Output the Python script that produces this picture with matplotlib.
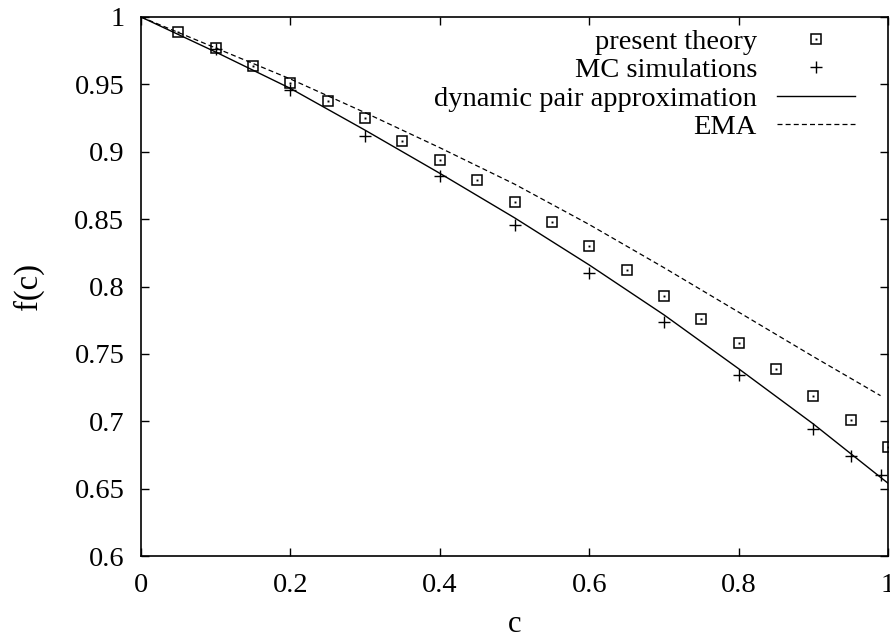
import matplotlib
matplotlib.use("Agg")
import matplotlib.pyplot as plt
from matplotlib.legend_handler import HandlerTuple

plt.rcParams['font.family'] = ['Liberation Serif', 'DejaVu Serif']

# present theory
c_theory = [0.05, 0.10, 0.15, 0.20, 0.25, 0.30, 0.35, 0.40, 0.45, 0.50,
            0.55, 0.60, 0.65, 0.70, 0.75, 0.80, 0.85, 0.90, 0.95, 1.00]
f_theory = [0.989, 0.977, 0.964, 0.951, 0.938, 0.925, 0.908, 0.894, 0.879, 0.863,
            0.848, 0.830, 0.812, 0.793, 0.776, 0.758, 0.739, 0.719, 0.701, 0.681]

# MC simulations
c_mc = [0.1, 0.2, 0.3, 0.4, 0.5, 0.6, 0.7, 0.8, 0.9, 0.95, 0.99]
f_mc = [0.976, 0.946, 0.912, 0.882, 0.846, 0.810, 0.774, 0.734, 0.694, 0.674, 0.660]

# dynamic pair approximation
c_dpa = [0.0, 0.1, 0.2, 0.3, 0.4, 0.5, 0.6, 0.7, 0.8, 0.9, 1.0]
f_dpa = [1.0, 0.974, 0.947, 0.916, 0.884, 0.851, 0.816, 0.779, 0.739, 0.698, 0.654]

# EMA
c_ema = [0.0, 0.1, 0.2, 0.3, 0.4, 0.5, 0.6, 0.7, 0.8, 0.9, 0.99]
f_ema = [1.0, 0.977, 0.954, 0.929, 0.903, 0.876, 0.846, 0.814, 0.781, 0.748, 0.719]

xticks = [0, 0.2, 0.4, 0.6, 0.8, 1]
xticklabels = ['0', '0.2', '0.4', '0.6', '0.8', '1']
yticks = [0.6, 0.65, 0.7, 0.75, 0.8, 0.85, 0.9, 0.95, 1]
yticklabels = ['0.6', '0.65', '0.7', '0.75', '0.8', '0.85', '0.9', '0.95', '1']

fig = plt.figure(figsize=(8.9, 6.42), dpi=100)
ax = fig.add_axes([141/890, 86/642, 747/890, 539/642])

sq, = ax.plot(c_theory, f_theory, linestyle='none', marker='s', markersize=6.8,
              markerfacecolor='none', markeredgecolor='black', markeredgewidth=1.1)
dot, = ax.plot(c_theory, f_theory, linestyle='none', marker='s', markersize=1.4,
               markerfacecolor='black', markeredgecolor='black', markeredgewidth=0)
mc, = ax.plot(c_mc, f_mc, linestyle='none', marker='+', markersize=8,
              color='black', markeredgewidth=1.0)
dpa, = ax.plot(c_dpa, f_dpa, color='black', linewidth=1.0)
ema, = ax.plot(c_ema, f_ema, color='black', linewidth=0.9, linestyle=(0, (4, 2.5)))

ax.set_xlim(0, 1)
ax.set_ylim(0.6, 1)
ax.set_xticks(xticks)
ax.set_xticklabels(xticklabels)
ax.set_yticks(yticks)
ax.set_yticklabels(yticklabels)
ax.tick_params(direction='in', length=6, width=1, top=True, right=True,
               labelsize=20.5, pad=12)
for s in ax.spines.values():
    s.set_linewidth(1.2)

ax.set_xlabel('c', fontsize=22, labelpad=9)
ax.set_ylabel('f(c)', fontsize=23.5, labelpad=22)

leg = ax.legend([(sq, dot), mc, dpa, ema],
                ['present theory', 'MC simulations', 'dynamic pair approximation', 'EMA'],
                handler_map={tuple: HandlerTuple(ndivide=1, pad=0)},
                loc='upper right', bbox_to_anchor=(0.956, 0.978),
                frameon=False, markerfirst=False, fontsize=20.5,
                handlelength=2.75, handletextpad=0.7, labelspacing=0.09,
                borderaxespad=0.0, borderpad=0.0)

fig.savefig('out.png', dpi=100)
